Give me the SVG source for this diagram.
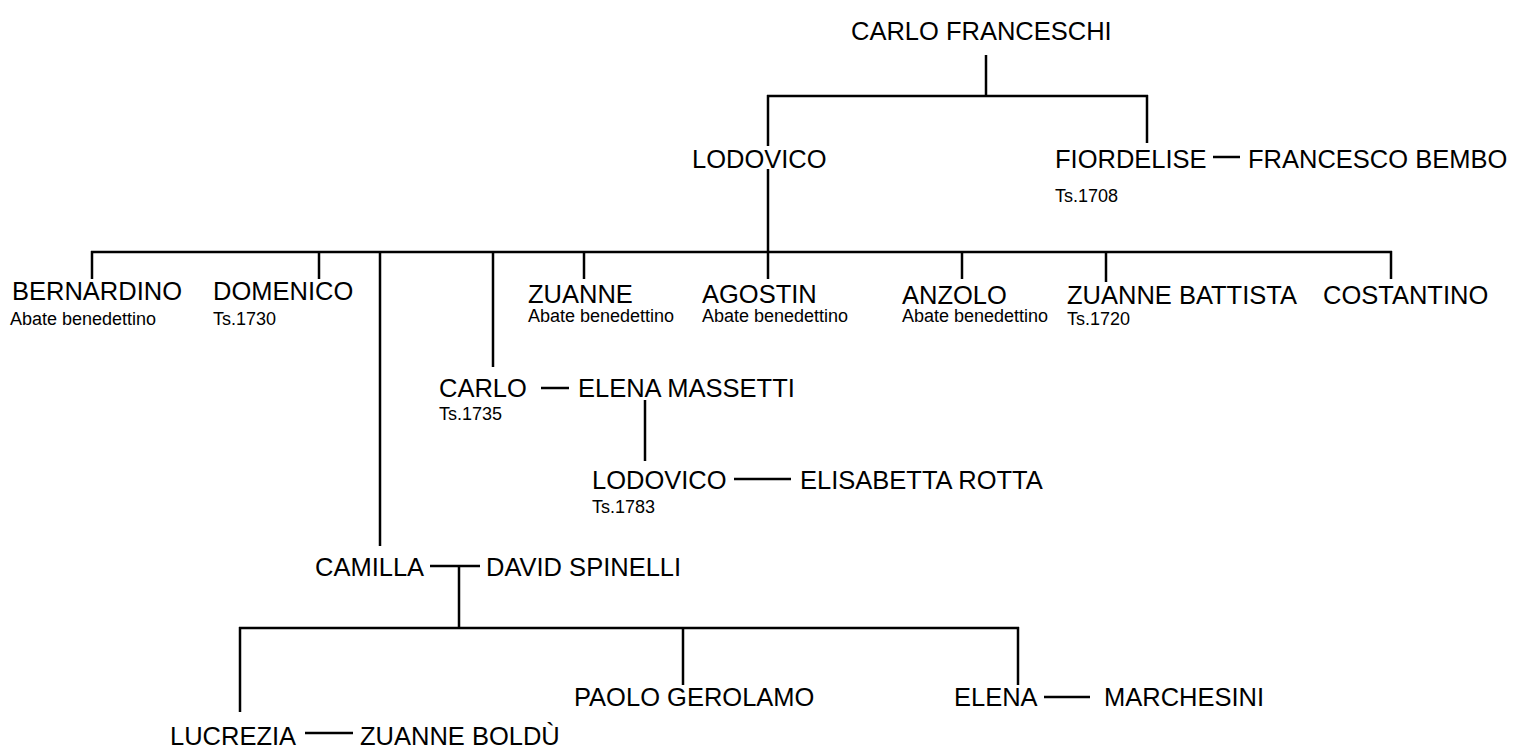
<svg xmlns="http://www.w3.org/2000/svg" width="1519" height="749" viewBox="0 0 1519 749">
<style>
text{font-family:"Liberation Sans",Arial,Helvetica,sans-serif;fill:#000}
.n{font-size:25.5px}
.s{font-size:18px}
.c line{stroke:#000;stroke-width:2.5;stroke-linecap:butt}
</style>
<rect width="1519" height="749" fill="#fff"/>
<g class="c" id="connectors">
<line x1="986" y1="55" x2="986" y2="97"/>
<line x1="767" y1="96" x2="1148" y2="96"/>
<line x1="768" y1="95" x2="768" y2="146"/>
<line x1="1147" y1="95" x2="1147" y2="143"/>
<line x1="1213" y1="157" x2="1240" y2="157"/>
<line x1="768" y1="169" x2="768" y2="253"/>
<line x1="91" y1="252" x2="1392" y2="252"/>
<line x1="92" y1="251" x2="92" y2="279"/>
<line x1="319" y1="251" x2="319" y2="279"/>
<line x1="380" y1="251" x2="380" y2="546"/>
<line x1="493" y1="251" x2="493" y2="367"/>
<line x1="584" y1="251" x2="584" y2="279"/>
<line x1="768" y1="251" x2="768" y2="279"/>
<line x1="962" y1="251" x2="962" y2="279"/>
<line x1="1106" y1="251" x2="1106" y2="282"/>
<line x1="1391" y1="251" x2="1391" y2="279"/>
<line x1="541" y1="388" x2="569" y2="388"/>
<line x1="645" y1="400" x2="645" y2="461"/>
<line x1="734" y1="479" x2="791" y2="479"/>
<line x1="430" y1="566" x2="480" y2="566"/>
<line x1="459" y1="566" x2="459" y2="629"/>
<line x1="239" y1="628" x2="1019" y2="628"/>
<line x1="240" y1="627" x2="240" y2="712"/>
<line x1="683" y1="627" x2="683" y2="685"/>
<line x1="1018" y1="627" x2="1018" y2="685"/>
<line x1="1044" y1="697" x2="1090" y2="697"/>
<line x1="305" y1="733" x2="353" y2="733"/>
</g>
<g id="carlo-franceschi"><text class="n" x="851" y="40">CARLO FRANCESCHI</text></g>
<g id="lodovico"><text class="n" x="692" y="168">LODOVICO</text></g>
<g id="fiordelise"><text class="n" x="1055" y="168">FIORDELISE</text><text class="s" x="1055" y="202">Ts.1708</text></g>
<g id="francesco-bembo"><text class="n" x="1248" y="168">FRANCESCO BEMBO</text></g>
<g id="bernardino"><text class="n" x="12" y="300">BERNARDINO</text><text class="s" x="10" y="325">Abate benedettino</text></g>
<g id="domenico"><text class="n" x="213" y="300">DOMENICO</text><text class="s" x="213" y="325">Ts.1730</text></g>
<g id="zuanne"><text class="n" x="528" y="303">ZUANNE</text><text class="s" x="528" y="322">Abate benedettino</text></g>
<g id="agostin"><text class="n" x="702" y="303">AGOSTIN</text><text class="s" x="702" y="322">Abate benedettino</text></g>
<g id="anzolo"><text class="n" x="902" y="304">ANZOLO</text><text class="s" x="902" y="322">Abate benedettino</text></g>
<g id="zuanne-battista"><text class="n" x="1067" y="304">ZUANNE BATTISTA</text><text class="s" x="1067" y="325">Ts.1720</text></g>
<g id="costantino"><text class="n" x="1323" y="304">COSTANTINO</text></g>
<g id="carlo"><text class="n" x="439" y="397">CARLO</text><text class="s" x="439" y="420">Ts.1735</text></g>
<g id="elena-massetti"><text class="n" x="578" y="397">ELENA MASSETTI</text></g>
<g id="lodovico-2"><text class="n" x="592" y="489">LODOVICO</text><text class="s" x="592" y="513">Ts.1783</text></g>
<g id="elisabetta-rotta"><text class="n" x="800" y="489">ELISABETTA ROTTA</text></g>
<g id="camilla"><text class="n" x="315" y="576">CAMILLA</text></g>
<g id="david-spinelli"><text class="n" x="486" y="576">DAVID SPINELLI</text></g>
<g id="paolo-gerolamo"><text class="n" x="574" y="706">PAOLO GEROLAMO</text></g>
<g id="elena"><text class="n" x="954" y="706">ELENA</text></g>
<g id="marchesini"><text class="n" x="1104" y="706">MARCHESINI</text></g>
<g id="lucrezia"><text class="n" x="170" y="745">LUCREZIA</text></g>
<g id="zuanne-boldu"><text class="n" x="360" y="745">ZUANNE BOLDÙ</text></g>
</svg>
